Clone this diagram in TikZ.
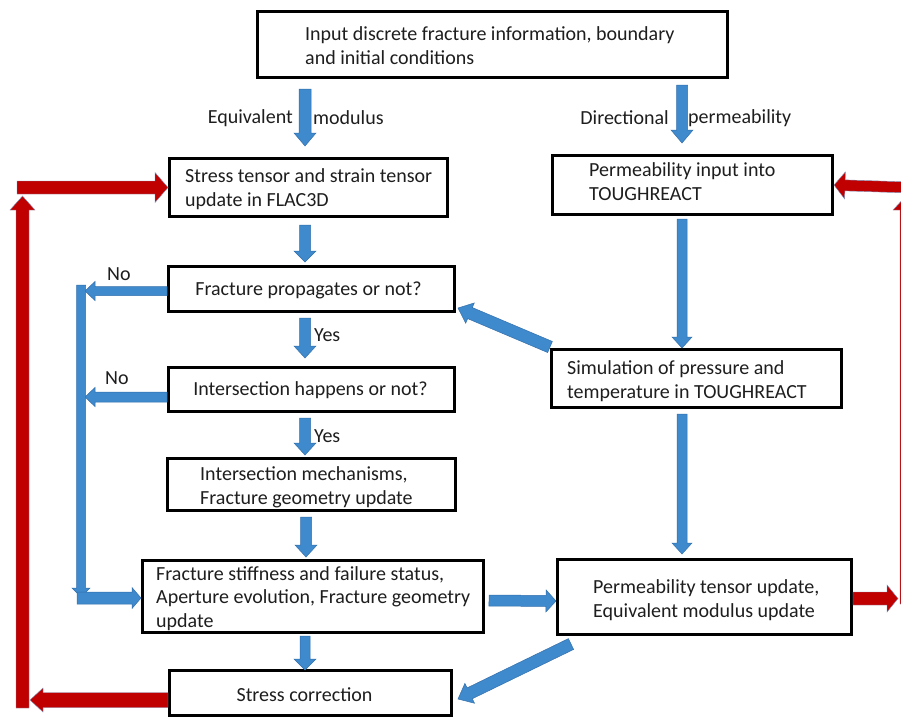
\documentclass[tikz,border=0pt]{standalone}
\usepackage{fontspec}
\setmainfont{Carlito}
\usetikzlibrary{calc}
\definecolor{arrblue}{RGB}{62,138,204}
\definecolor{arrblueline}{RGB}{52,112,172}
\definecolor{arrred}{RGB}{192,0,0}
\definecolor{arrredline}{RGB}{130,150,190}
\definecolor{txtcol}{RGB}{30,30,30}
\newcommand\blkarr[6][]{%
  \path[#1] let \p1=(#2), \p2=(#3),
    \n1={atan2(\y2-\y1,\x2-\x1)}, \n2={veclen(\x2-\x1,\y2-\y1)} in
    [shift={(\p1)}, rotate=\n1]
    (0,-#4) -- ({\n2-#6},-#4) -- ({\n2-#6},-#5) -- ({\n2},0) --
    ({\n2-#6},#5) -- ({\n2-#6},#4) -- (0,#4) -- cycle;}
\tikzset{
  box/.style={draw=black, line width=3pt, fill=white, inner sep=0pt},
  txt/.style={font=\fontsize{20}{23.8}\selectfont, text=txtcol, align=left, inner sep=0pt},
  bluearr/.style={fill=arrblue, draw=arrblueline, line width=0.5pt},
  redarr/.style={fill=arrred, draw=arrredline, line width=0.4pt},
}
\begin{document}
\begin{tikzpicture}[x=1pt, y=-1pt]
\useasboundingbox (0,0) rectangle (901,718);
\fill[white] (0,0) rectangle (901,718);
\clip (0,0) rectangle (901,718);

% boxes
\node[box, minimum width=470pt, minimum height=66pt] (top) at (492.5,44.5) {};
\node[box, minimum width=278pt, minimum height=58pt] (stress) at (308.5,187.5) {};
\node[box, minimum width=280pt, minimum height=59pt] (permin) at (692.5,185) {};
\node[box, minimum width=286pt, minimum height=45pt] (fprop) at (311.5,289) {};
\node[box, minimum width=286pt, minimum height=44pt] (inter) at (311.5,389.5) {};
\node[box, minimum width=288pt, minimum height=52pt] (mech) at (311.5,484.5) {};
\node[box, minimum width=341pt, minimum height=72pt] (stiff) at (313,596.5) {};
\node[box, minimum width=282pt, minimum height=45pt] (scorr) at (310.5,693) {};
\node[box, minimum width=290pt, minimum height=58pt] (sim) at (696.5,378.5) {};
\node[box, minimum width=294pt, minimum height=75pt] (ptens) at (704.5,597) {};

% box texts
\node[txt, anchor=west] at ($(top.west)+(49,1.5)$) {Input discrete fracture information, boundary\\and initial conditions};
\node[txt, anchor=west] at ($(stress.west)+(17,1.5)$) {Stress tensor and strain tensor\\update in FLAC3D};
\node[txt, anchor=west] at ($(permin.west)+(38,-3.5)$) {Permeability input into\\TOUGHREACT};
\node[txt] at ($(fprop.center)+(-3,1.5)$) {Fracture propagates or not?};
\node[txt] at ($(inter.center)+(-1,0.5)$) {Intersection happens or not?};
\node[txt, anchor=west] at ($(mech.west)+(34,2.5)$) {Intersection mechanisms,\\Fracture geometry update};
\node[txt, anchor=west] at ($(stiff.west)+(15,2)$) {Fracture stiffness and failure status,\\Aperture evolution, Fracture geometry\\update};
\node[txt] at ($(scorr.center)+(-6,2)$) {Stress correction};
\node[txt, anchor=west] at ($(sim.west)+(17,2.5)$) {Simulation of pressure and\\temperature in TOUGHREACT};
\node[txt, anchor=west] at ($(ptens.west)+(37,3.5)$) {Permeability tensor update,\\Equivalent modulus update};

% column references
\coordinate (colL) at (305,0);
\coordinate (colR) at (682,0);

% blue arrows
\blkarr[bluearr]{$(top.south -| colL)+(0,10)$}{$(stress.north -| colL)+(0,-11)$}{6}{11}{13}
\blkarr[bluearr]{$(top.south -| colR)+(0,6)$}{$(permin.north -| colR)+(0,-11)$}{5.5}{11}{13}
\blkarr[bluearr]{$(stress.south -| colL)+(0,7)$}{$(fprop.north -| colL)+(0,-3)$}{5.5}{11}{11}
\blkarr[bluearr]{$(fprop.south -| colL)+(0,5)$}{$(inter.north -| colL)+(0,-8)$}{5.5}{11}{12}
\blkarr[bluearr]{$(inter.south -| colL)+(0,5)$}{$(mech.north -| colL)+(0,-2)$}{5.5}{11}{12}
\blkarr[bluearr]{$(mech.south -| colL)+(1,5)$}{$(stiff.north -| colL)+(1,-2)$}{5.5}{11}{12}
\blkarr[bluearr]{$(stiff.south -| colL)+(0,2)$}{$(scorr.north -| colL)+(0,1)$}{5}{11}{11}
\blkarr[bluearr]{$(permin.south -| colR)+(0,3)$}{$(sim.north -| colR)+(0,0)$}{5}{10}{11}
\blkarr[bluearr]{$(sim.south -| colR)+(0,5)$}{$(ptens.north -| colR)+(0,-4)$}{5}{10}{11}
\blkarr[bluearr]{$(stiff.east)+(4,4)$}{$(ptens.west)+(0,4)$}{5.5}{11}{10}
\blkarr[bluearr]{$(sim.north west)+(0,-1)$}{$(fprop.south east)+(2,-5)$}{6}{11}{13}
\blkarr[bluearr]{$(ptens.south west)+(15,8)$}{$(scorr.east)+(5,6)$}{6}{11}{13}
% "No" branches
\coordinate (nobend) at (81,285);
\coordinate (nobottom) at (81,598);
\blkarr[bluearr]{$(fprop.west)+(0,2)$}{$(fprop.west -| nobend)+(4,2)$}{4.5}{9.5}{10}
\blkarr[bluearr]{$(inter.west)+(0,7.5)$}{$(inter.west -| nobend)+(4,7.5)$}{5}{9.5}{10}
\blkarr[bluearr]{nobend}{$(nobottom)+(0,-1)$}{4.5}{9}{9}
\blkarr[bluearr]{$(nobottom)+(-4,0)$}{$(stiff.west)+(0,1.5)$}{6}{10.5}{9}

% red loops
\coordinate (lb) at (22.5,708);
\coordinate (lt) at (22.5,196);
\coordinate (ltl) at (17,187.5);
\coordinate (rb) at (906,604);
\coordinate (rt) at (906,196);
\coordinate (rtr) at (910,187.5);
\blkarr[redarr]{$(scorr.west)+(0,7)$}{$(scorr.west -| lb)+(7.5,7)$}{7.5}{12}{13}
\blkarr[redarr]{lb}{lt}{6.5}{12.5}{14}
\blkarr[redarr]{ltl}{stress.west}{6.5}{15}{13}
\blkarr[redarr]{$(ptens.east)+(0,1.5)$}{$(ptens.east)+(45,1.5)$}{6.5}{13.5}{11}
\blkarr[redarr]{rb}{rt}{6}{13}{14}
\blkarr[redarr]{rtr}{permin.east}{5.5}{13.5}{11}

% labels
\node[txt, anchor=east] at (293,118) {Equivalent};
\node[txt, anchor=west] at (313,118) {modulus};
\node[txt, anchor=east] at (669,118) {Directional};
\node[txt, anchor=west] at (688,118) {permeability};
\node[txt, anchor=west] at (107,274) {No};
\node[txt, anchor=west] at (105,378) {No};
\node[txt, anchor=west] at (314,335) {Yes};
\node[txt, anchor=west] at (314,436) {Yes};
\end{tikzpicture}
\end{document}
